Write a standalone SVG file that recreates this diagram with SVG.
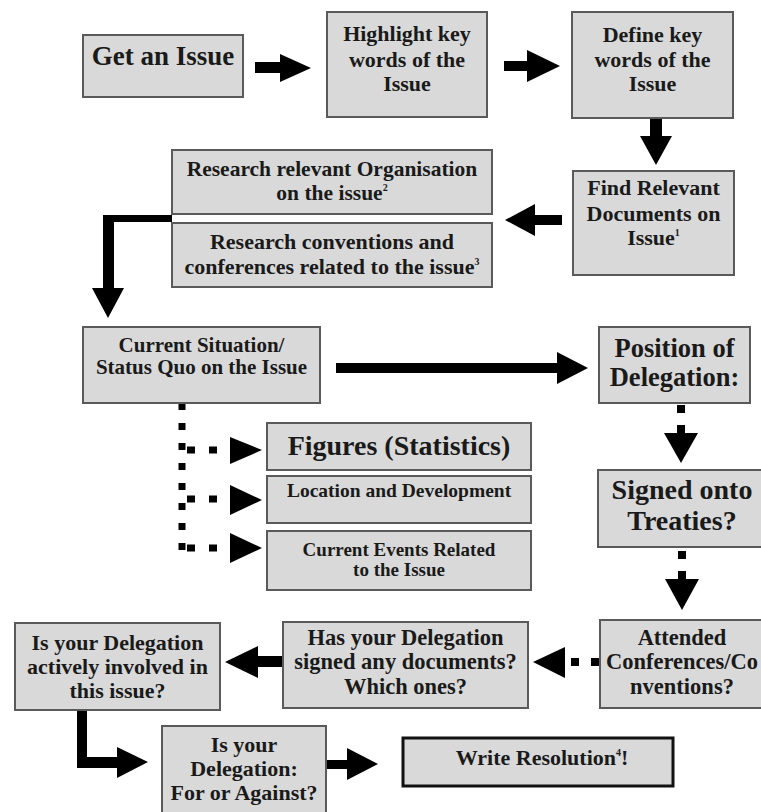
<svg xmlns="http://www.w3.org/2000/svg" width="761" height="812" viewBox="0 0 761 812">
<style>
.box{fill:#d9d9d9;stroke:#5a5a5a;stroke-width:2}
.box2{fill:#d9d9d9;stroke:#111;stroke-width:3}
text{font-family:"Liberation Serif","Times New Roman",serif;font-weight:bold;fill:#1a1a1a;text-anchor:middle}
.ar{fill:#000}
.dot{stroke:#000;stroke-width:7;fill:none}
</style>
<rect width="761" height="812" fill="#fff"/>
<g id="connectors">
<path class="ar" d="M255,62 H280 V54 L311,68 L280,82 V73 H255 Z"/>
<path class="ar" d="M504,61 H527 V50 L560,66 L527,82 V71 H504 Z"/>
<path class="ar" d="M650,119 V136 H640 L656,165 L672,136 H662 V119 Z"/>
<path class="ar" d="M562,215 H535 V204 L505,220 L535,236 V225 H562 Z"/>
<path class="ar" d="M172,215 V222 H114 V288 H124 L108,318 L92,288 H103 V215 Z"/>
<path class="ar" d="M336,363 H557 V352 L588,368 L557,384 V373 H336 Z"/>
<rect class="ar" x="677" y="405" width="8" height="8"/>
<rect class="ar" x="677" y="425" width="8" height="8"/>
<path class="ar" d="M664,433 H698 L681,463 Z"/>
<rect class="ar" x="678" y="551" width="8" height="8"/>
<rect class="ar" x="678" y="571" width="8" height="8"/>
<path class="ar" d="M665,579 H699 L682,610 Z"/>
<rect class="ar" x="591" y="658" width="8" height="8"/>
<rect class="ar" x="571" y="658" width="8" height="8"/>
<path class="ar" d="M565,647 V678 L533,662 Z"/>
<path class="ar" d="M283,656 H258 V646 L225,662 L258,678 V667 H283 Z"/>
<path class="ar" d="M77,710 H87 V757 H117 V747 L148,762 L117,778 V768 H77 Z"/>
<path class="ar" d="M326,760 H347 V748 L378,764 L347,780 V769 H326 Z"/>
<line class="dot" x1="182" y1="403" x2="182" y2="551" stroke-dasharray="7 13"/>
<line class="dot" x1="187" y1="450" x2="217" y2="450" stroke-dasharray="8 14"/>
<line class="dot" x1="187" y1="499" x2="217" y2="499" stroke-dasharray="8 14"/>
<line class="dot" x1="187" y1="548" x2="217" y2="548" stroke-dasharray="8 14"/>
<path class="ar" d="M230,437 V464 L262,450 Z"/>
<path class="ar" d="M230,485 V515 L262,500 Z"/>
<path class="ar" d="M230,533 V563 L262,548 Z"/>
</g>
<g id="n1"><rect class="box" x="83" y="35" width="160" height="62"/><text x="163" y="65" font-size="27">Get an Issue</text></g>
<g id="n2"><rect class="box" x="327" y="12" width="160" height="105"/><text x="407" y="41" font-size="22">Highlight key</text><text x="407" y="67" font-size="22">words of the</text><text x="407" y="91" font-size="22">Issue</text></g>
<g id="n3"><rect class="box" x="572" y="12" width="161" height="106"/><text x="652.5" y="42" font-size="22">Define key</text><text x="652.5" y="67" font-size="22">words of the</text><text x="652.5" y="91" font-size="22">Issue</text></g>
<g id="n4"><rect class="box" x="573" y="171" width="161" height="104"/><text x="653.5" y="195" font-size="22">Find Relevant</text><text x="653.5" y="221" font-size="22">Documents on</text><text x="653.5" y="245" font-size="22">Issue<tspan font-size="10" dy="-9">1</tspan></text></g>
<g id="n5a"><rect class="box" x="172" y="150" width="320" height="64"/><text x="332" y="176" font-size="21.5">Research relevant Organisation</text><text x="332" y="200" font-size="21.5">on the issue<tspan font-size="10" dy="-9">2</tspan></text></g>
<g id="n5b"><rect class="box" x="172" y="223" width="320" height="64"/><text x="332" y="249" font-size="22">Research conventions and</text><text x="332" y="274" font-size="22">conferences related to the issue<tspan font-size="10" dy="-9">3</tspan></text></g>
<g id="n6"><rect class="box" x="83" y="327" width="237" height="76"/><text x="201.5" y="352" font-size="21">Current Situation/</text><text x="201.5" y="374" font-size="21">Status Quo on the Issue</text></g>
<g id="n7"><rect class="box" x="599" y="327" width="151" height="76"/><text x="674.5" y="357" font-size="26.5">Position of</text><text x="674.5" y="386" font-size="26.5">Delegation:</text></g>
<g id="n8"><rect class="box" x="598" y="470" width="170" height="77"/><text x="682" y="499" font-size="28">Signed onto</text><text x="682" y="530" font-size="28">Treaties?</text></g>
<g id="n9"><rect class="box" x="267" y="423" width="264" height="47"/><text x="399" y="455" font-size="28">Figures (Statistics)</text></g>
<g id="n10"><rect class="box" x="267" y="476" width="264" height="47"/><text x="399" y="497" font-size="19.5">Location and Development</text></g>
<g id="n11"><rect class="box" x="267" y="531" width="264" height="59"/><text x="399" y="556" font-size="19">Current Events Related</text><text x="399" y="576" font-size="19">to the Issue</text></g>
<g id="n12"><rect class="box" x="600" y="620" width="170" height="88"/><text x="682" y="645" font-size="22.5">Attended</text><text x="682" y="669" font-size="22.5">Conferences/Co</text><text x="682" y="694" font-size="22.5">nventions?</text></g>
<g id="n13"><rect class="box" x="283" y="622" width="245" height="86"/><text x="405.5" y="645" font-size="22.5">Has your Delegation</text><text x="405.5" y="669" font-size="22.5">signed any documents?</text><text x="405.5" y="694" font-size="22.5">Which ones?</text></g>
<g id="n14"><rect class="box" x="15" y="623" width="205" height="87"/><text x="117.5" y="650" font-size="22">Is your Delegation</text><text x="117.5" y="674" font-size="22">actively involved in</text><text x="117.5" y="698" font-size="22">this issue?</text></g>
<g id="n15"><rect class="box" x="162" y="726" width="164" height="90"/><text x="244" y="752" font-size="22">Is your</text><text x="244" y="776" font-size="22">Delegation:</text><text x="244" y="800" font-size="22">For or Against?</text></g>
<g id="n16"><rect class="box2" x="403" y="738" width="270" height="48"/><text x="542" y="765" font-size="22">Write Resolution<tspan font-size="10" dy="-9">4</tspan><tspan dy="9">!</tspan></text></g>
</svg>
